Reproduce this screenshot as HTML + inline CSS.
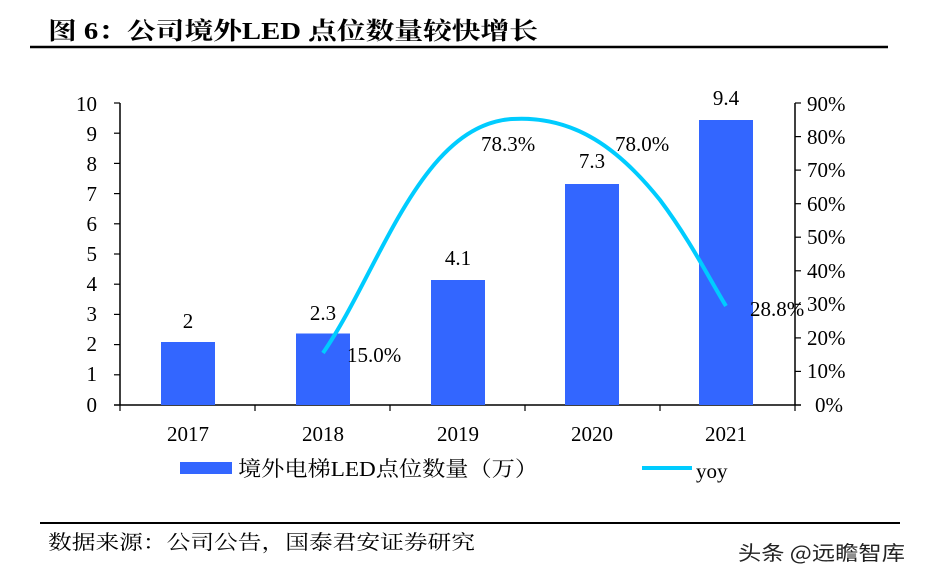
<!DOCTYPE html>
<html><head><meta charset="utf-8"><style>
body{margin:0;background:#fff;}
svg text{font-family:"Liberation Serif","Noto Serif CJK SC",serif;}
</style></head><body>
<svg width="926" height="582" viewBox="0 0 926 582" xmlns="http://www.w3.org/2000/svg">
<rect width="926" height="582" fill="#fff"/>
<text x="48" y="39" font-size="24" font-weight="bold" fill="#000" textLength="490" lengthAdjust="spacingAndGlyphs">图 6：公司境外LED 点位数量较快增长</text>
<line x1="30" y1="47" x2="888" y2="47" stroke="#000" stroke-width="2.5"/>
<g stroke="#000" stroke-width="1.5">
<line x1="120" y1="103" x2="120" y2="405"/>
<line x1="795" y1="103" x2="795" y2="405"/>
<line x1="114" y1="405" x2="801" y2="405"/>
</g>
<g stroke="#000" stroke-width="1.2">
<line x1="114" y1="103" x2="120" y2="103"/><line x1="114" y1="133.2" x2="120" y2="133.2"/><line x1="114" y1="163.4" x2="120" y2="163.4"/><line x1="114" y1="193.6" x2="120" y2="193.6"/><line x1="114" y1="223.8" x2="120" y2="223.8"/><line x1="114" y1="254" x2="120" y2="254"/><line x1="114" y1="284.2" x2="120" y2="284.2"/><line x1="114" y1="314.4" x2="120" y2="314.4"/><line x1="114" y1="344.6" x2="120" y2="344.6"/><line x1="114" y1="374.8" x2="120" y2="374.8"/>
<line x1="795" y1="103" x2="801" y2="103"/><line x1="795" y1="136.6" x2="801" y2="136.6"/><line x1="795" y1="170.1" x2="801" y2="170.1"/><line x1="795" y1="203.7" x2="801" y2="203.7"/><line x1="795" y1="237.2" x2="801" y2="237.2"/><line x1="795" y1="270.8" x2="801" y2="270.8"/><line x1="795" y1="304.3" x2="801" y2="304.3"/><line x1="795" y1="337.9" x2="801" y2="337.9"/><line x1="795" y1="371.4" x2="801" y2="371.4"/>
<line x1="255" y1="405" x2="255" y2="411"/><line x1="390" y1="405" x2="390" y2="411"/><line x1="525" y1="405" x2="525" y2="411"/><line x1="660" y1="405" x2="660" y2="411"/><line x1="120" y1="405" x2="120" y2="411"/><line x1="795" y1="405" x2="795" y2="411"/>
</g>
<g font-size="21" text-anchor="end" fill="#000">
<text x="97" y="111">10</text><text x="97" y="141">9</text><text x="97" y="171">8</text><text x="97" y="201">7</text><text x="97" y="231">6</text><text x="97" y="261">5</text><text x="97" y="291">4</text><text x="97" y="321">3</text><text x="97" y="351">2</text><text x="97" y="381">1</text><text x="97" y="412">0</text>
</g>
<g font-size="21" text-anchor="start" fill="#000">
<text x="807" y="111">90%</text><text x="807" y="144">80%</text><text x="807" y="177">70%</text><text x="807" y="211">60%</text><text x="807" y="244">50%</text><text x="807" y="278">40%</text><text x="807" y="311">30%</text><text x="807" y="345">20%</text><text x="807" y="378">10%</text><text x="815" y="412">0%</text>
</g>
<g fill="#3366ff">
<rect x="161" y="342" width="54" height="63"/>
<rect x="296" y="333.5" width="54" height="71.5"/>
<rect x="431" y="280" width="54" height="125"/>
<rect x="565" y="184" width="54" height="221"/>
<rect x="699" y="120" width="54" height="285"/>
</g>
<g font-size="21" text-anchor="middle" fill="#000">
<text x="188" y="328">2</text><text x="323" y="320">2.3</text><text x="458" y="265">4.1</text><text x="592" y="168">7.3</text><text x="726" y="105">9.4</text>
<text x="188" y="441">2017</text><text x="323" y="441">2018</text><text x="458" y="441">2019</text><text x="592" y="441">2020</text><text x="726" y="441">2021</text>
</g>
<path d="M323,353 C380,270 420,125 512,119 C575,115 620,150 660,200 C690,240 710,280 726,306" fill="none" stroke="#00ccff" stroke-width="4"/>
<g font-size="21" fill="#000">
<text x="347" y="362">15.0%</text><text x="481" y="151">78.3%</text><text x="615" y="151">78.0%</text><text x="750" y="316">28.8%</text>
</g>
<rect x="180" y="462" width="52" height="12" fill="#3366ff"/>
<text x="238" y="476" font-size="21" fill="#000" textLength="300" lengthAdjust="spacingAndGlyphs">境外电梯LED点位数量（万）</text>
<line x1="642" y1="468" x2="692" y2="468" stroke="#00ccff" stroke-width="4"/>
<text x="696" y="478" font-size="21" fill="#000">yoy</text>
<line x1="40" y1="523" x2="900" y2="523" stroke="#000" stroke-width="2"/>
<text x="48" y="549" font-size="20" fill="#000" textLength="427" lengthAdjust="spacingAndGlyphs">数据来源：公司公告，国泰君安证券研究</text>
<text x="738" y="560" font-size="20" fill="#222" textLength="167" lengthAdjust="spacingAndGlyphs" style="font-family:'Noto Sans CJK SC',sans-serif">头条 @远瞻智库</text>
</svg>
</body></html>
